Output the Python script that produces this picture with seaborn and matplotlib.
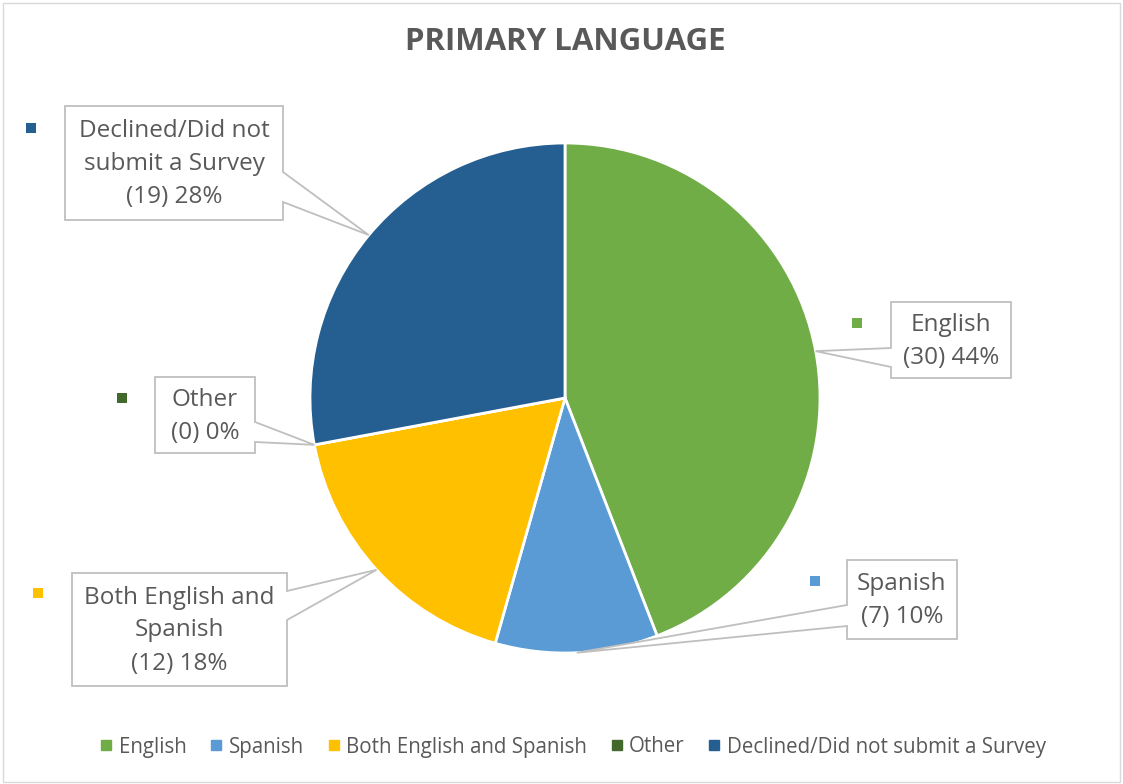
import matplotlib
matplotlib.use("Agg")
import matplotlib.pyplot as plt
import seaborn as sns
import numpy as np
from matplotlib.patches import Polygon, Rectangle
from matplotlib.lines import Line2D

# data
categories = ["English", "Spanish", "Both English and Spanish", "Other",
              "Declined/Did not submit a Survey"]
counts = [30, 7, 12, 0, 19]
percent_labels = ["44%", "10%", "18%", "0%", "28%"]
callout_names = ["English", "Spanish", "Both English and\nSpanish", "Other",
                 "Declined/Did not\nsubmit a Survey"]
colors = ["#70AD47", "#5B9BD5", "#FFC000", "#43682B", "#255E91"]

W, H = 1123, 784
TEXT = "#595959"
EDGE = "#BFBFBF"

sns.set_theme(style="white")
plt.rcParams['font.family'] = ['Open Sans', 'DejaVu Sans']

fig = plt.figure(figsize=(W / 100, H / 100), dpi=100)
ax = fig.add_axes([0, 0, 1, 1])

# pie (image coords -> y up)
cx, cy, r = 565, H - 398, 255
palette = sns.color_palette(colors)
wedges, _ = ax.pie(counts, colors=palette, startangle=90, counterclock=False,
                   center=(cx, cy), radius=r, frame=True,
                   wedgeprops=dict(edgecolor="white", linewidth=2))
ax.set_xlim(0, W)
ax.set_ylim(0, H)
ax.set_axis_off()

# callout boxes: (x0, x1, y0, y1) in image px, leader side, leader y's, marker pos
callouts = [
    dict(box=(891, 1011, 302, 378), side="left", ly=(348, 367), key=(857, 323)),
    dict(box=(847, 957, 560, 639), side="left", ly=(605, 626), key=(815, 581)),
    dict(box=(72, 287, 573, 686), side="right", ly=(591, 620), key=(38, 593)),
    dict(box=(155, 255, 377, 453), side="right", ly=(422, 442), key=(122, 398)),
    dict(box=(65, 283, 106, 220), side="right", ly=(172, 202), key=(31, 128)),
]

total = sum(counts)
start = 90.0
for i, c in enumerate(callouts):
    sweep = 360.0 * counts[i] / total
    mid = np.deg2rad(start - sweep / 2)
    start -= sweep
    tip = (cx + r * np.cos(mid), cy + r * np.sin(mid))
    x0, x1, y0, y1 = c["box"]
    Y0, Y1 = H - y0, H - y1
    a, b = H - c["ly"][0], H - c["ly"][1]
    if c["side"] == "right":
        pts = [(x0, Y0), (x1, Y0), (x1, a), tip, (x1, b), (x1, Y1), (x0, Y1)]
    else:
        pts = [(x0, Y0), (x1, Y0), (x1, Y1), (x0, Y1), (x0, b), tip, (x0, a)]
    ax.add_patch(Polygon(pts, closed=True, facecolor="white", edgecolor=EDGE,
                         linewidth=1.3, zorder=3))
    label = f"{callout_names[i]}\n({counts[i]}) {percent_labels[i]}"
    ax.text((x0 + x1) / 2, (Y0 + Y1) / 2 - 1, label, ha="center", va="center",
            fontsize=17.5, color=TEXT, linespacing=1.5, zorder=4)
    kx, ky = c["key"]
    ax.add_patch(Rectangle((kx - 5, H - ky - 5), 10, 10, facecolor=colors[i],
                           edgecolor="none", zorder=4))

# title
ax.text(565, H - 42, "PRIMARY LANGUAGE", ha="center", va="center",
        fontsize=22.5, fontweight="bold", color=TEXT)

# legend
handles = [Line2D([0], [0], marker="s", linestyle="", markersize=7,
                  markerfacecolor=col, markeredgecolor=col) for col in colors]
leg = fig.legend(handles, categories, loc="center", ncol=5,
                 bbox_to_anchor=(573 / W, (H - 747) / H), frameon=False,
                 fontsize=14.8, handlelength=0.6, handletextpad=0.3,
                 columnspacing=1.15)
for t in leg.get_texts():
    t.set_color(TEXT)

# chart border
fig.patches.append(Rectangle((3 / W, 2 / H), (1120 - 3) / W, (781 - 2) / H,
                             transform=fig.transFigure, fill=False,
                             edgecolor="#D9D9D9", linewidth=1))

fig.savefig("out.png", dpi=100, facecolor="white")
